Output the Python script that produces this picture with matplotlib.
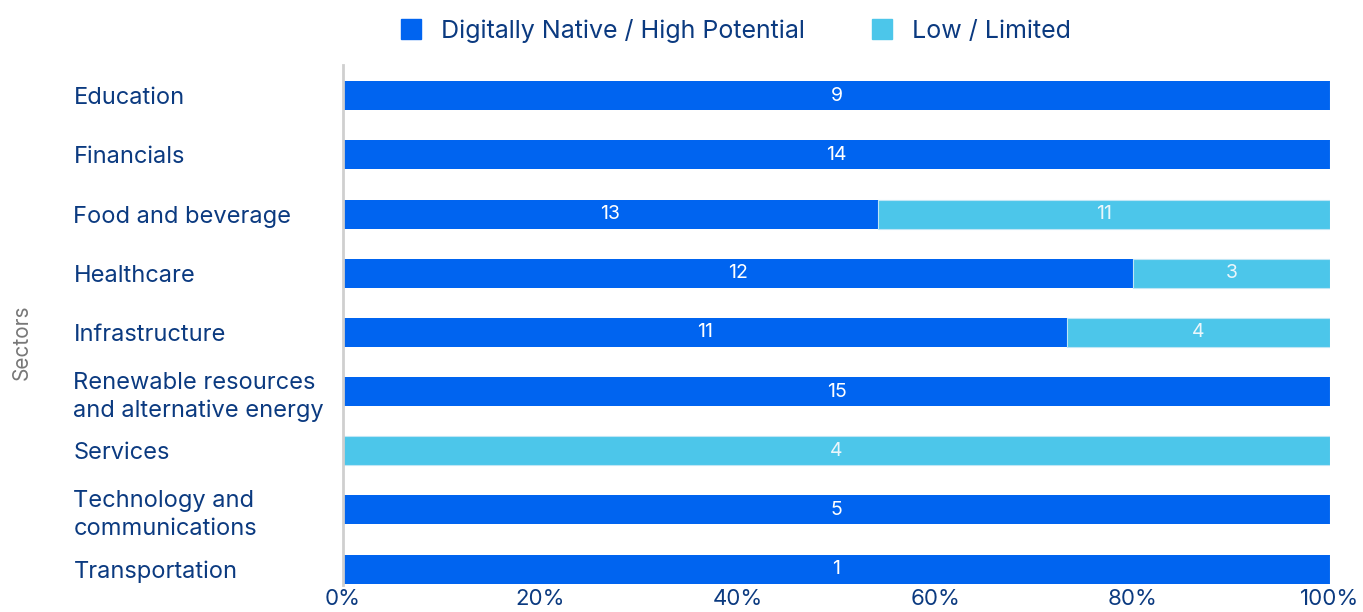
import matplotlib
matplotlib.use("Agg")
import matplotlib.pyplot as plt
from matplotlib.lines import Line2D
import numpy as np

plt.rcParams['font.family'] = ['Inter', 'DejaVu Sans']

# data
sectors = ["Education", "Financials", "Food and beverage", "Healthcare", "Infrastructure",
           "Renewable resources\nand alternative energy", "Services",
           "Technology and\ncommunications", "Transportation"]
high = [9, 14, 13, 12, 11, 15, 0, 5, 1]
low = [0, 0, 11, 3, 4, 0, 4, 0, 0]
series_names = ["Digitally Native / High Potential", "Low / Limited"]

dark = "#0064F0"
light = "#4CC6EA"
navy = "#0B3A80"

high = np.array(high, dtype=float)
low = np.array(low, dtype=float)
tot = high + low
high_pct = high / tot
low_pct = low / tot

fig = plt.figure(figsize=(13.63, 6.12), dpi=100)
ax = fig.add_axes([0.2516, 0.0441, 0.7242, 0.8497])

y = np.arange(len(sectors))
bh = 0.49
ax.barh(y, high_pct, height=bh, color=dark)
ax.barh(y, low_pct, left=high_pct, height=bh, color=light,
        edgecolor="#BFE6F5", linewidth=0.8)

for i in range(len(sectors)):
    if high[i] > 0:
        ax.text(high_pct[i] / 2, y[i], f"{int(high[i])}", ha="center", va="center",
                color="white", fontsize=14)
    if low[i] > 0:
        ax.text(high_pct[i] + low_pct[i] / 2, y[i], f"{int(low[i])}", ha="center",
                va="center", color="#EAF6FB", fontsize=14)

ax.set_xlim(0, 1)
ax.set_ylim(8.27, -0.52)
ax.set_xticks(np.linspace(0, 1, 6))
ax.set_xticklabels([f"{int(v)}%" for v in np.linspace(0, 100, 6)], color=navy, fontsize=16)
ax.set_yticks(y)
ax.set_yticklabels(sectors, ha="left", color=navy, fontsize=17, linespacing=1.35)
ax.tick_params(axis="y", length=0, pad=194)
ax.tick_params(axis="x", length=0, pad=3)

for s in ["top", "right", "bottom"]:
    ax.spines[s].set_visible(False)
ax.spines["left"].set_color("#CFCFCF")
ax.spines["left"].set_linewidth(2)

fig.text(0.016, 0.44, "Sectors", rotation=90, ha="center", va="center",
         color="#777777", fontsize=15)

handles = [Line2D([], [], marker="s", linestyle="none", markersize=15, color=dark),
           Line2D([], [], marker="s", linestyle="none", markersize=15, color=light)]
fig.legend(handles, series_names, loc="center", bbox_to_anchor=(0.539, 0.949), ncol=2,
           frameon=False, fontsize=18, labelcolor=navy, handletextpad=0.7,
           columnspacing=2.6, handlelength=1.0)

fig.savefig("out.png", dpi=100)
